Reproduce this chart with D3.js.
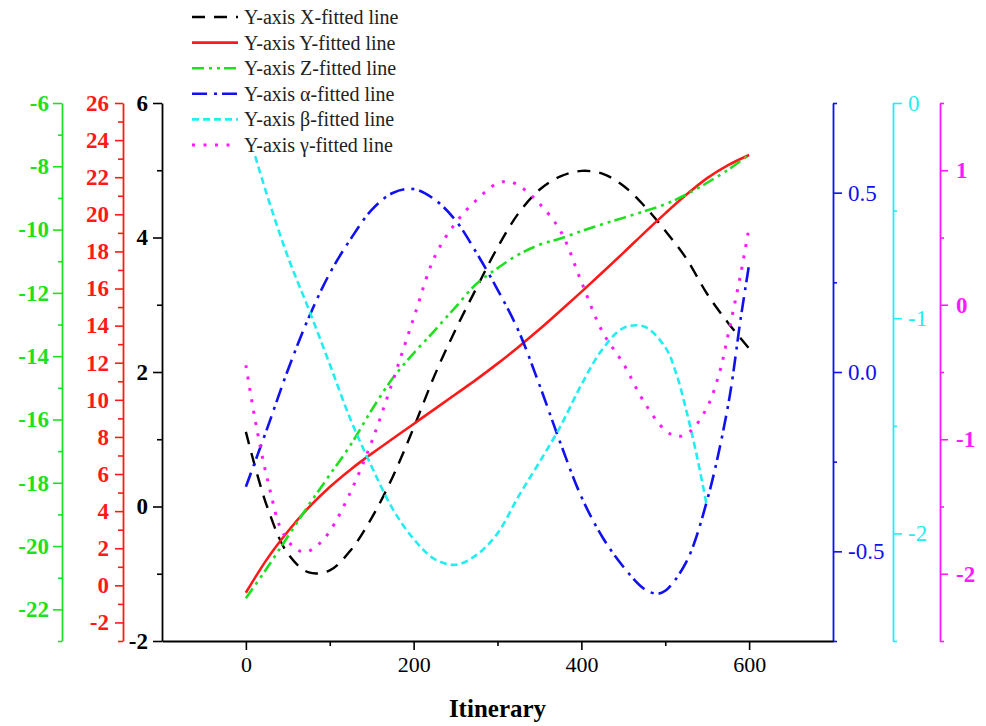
<!DOCTYPE html>
<html>
<head>
<meta charset="utf-8">
<script src="https://cdn.jsdelivr.net/npm/d3@7"></script>
<style>
  html, body { margin: 0; padding: 0; background: #fff; }
  svg { display: block; }
  text { font-family: "Liberation Serif", "Times New Roman", serif; }
</style>
</head>
<body>
<svg id="chart" width="986" height="726"></svg>
<script>
// Fitted lines along the itinerary, each on its own Y axis
const xLabel = "Itinerary";
const legendLabels = [
  "Y-axis X-fitted line",
  "Y-axis Y-fitted line",
  "Y-axis Z-fitted line",
  "Y-axis \u03b1-fitted line",
  "Y-axis \u03b2-fitted line",
  "Y-axis \u03b3-fitted line"
];

const stepsA = [0, 25, 50, 75, 100, 125, 150, 175, 200, 225, 250, 275, 300,
                325, 350, 375, 400, 425, 450, 475, 500, 525, 550, 575, 600];

const xFitX = stepsA;
const xFitValues = [1.11, 0.01, -0.70, -0.98, -0.95, -0.65, -0.17, 0.44, 1.17, 1.95, 2.63, 3.25, 3.85,
                    4.36, 4.71, 4.91, 4.99, 4.95, 4.77, 4.47, 4.10, 3.69, 3.16, 2.73, 2.35];

const yFitX = stepsA;
const yFitValues = [-0.40, 1.40, 2.90, 4.20, 5.30, 6.25, 7.10, 7.90, 8.70, 9.50, 10.30, 11.10, 11.95,
                    12.85, 13.80, 14.80, 15.82, 16.86, 17.92, 19.0, 20.05, 21.05, 21.95, 22.65, 23.2];

const zFitX = stepsA;
const zFitValues = [-21.65, -20.7, -19.7, -18.7, -17.75, -16.8, -15.7, -14.7, -13.91, -13.19, -12.45, -11.71, -11.22,
                    -10.79, -10.48, -10.28, -10.05, -9.83, -9.63, -9.42, -9.2, -8.89, -8.52, -8.11, -7.64];

const alphaFitX = [0, 25, 50, 75, 100, 125, 150, 175, 200, 225, 250, 275, 300,
                   325, 350, 375, 400, 425, 450, 475, 490, 500, 525, 550, 575, 590, 600];
const alphaFitValues = [-0.32, -0.16, 0.005, 0.152, 0.275, 0.371, 0.452, 0.499, 0.51, 0.481, 0.423, 0.332, 0.23,
                        0.115, -0.036, -0.198, -0.348, -0.46, -0.543, -0.605, -0.618, -0.61, -0.53, -0.357, -0.092, 0.15, 0.30];

const betaFitX = [0, 25, 50, 75, 100, 125, 150, 175, 200, 225, 250, 275, 300,
                  325, 350, 375, 400, 425, 450, 475, 500, 513, 525, 537, 549];
const betaFitValues = [-0.10, -0.425, -0.714, -0.959, -1.214, -1.473, -1.69, -1.886, -2.026, -2.119, -2.146, -2.1, -2.0,
                       -1.828, -1.669, -1.503, -1.309, -1.145, -1.046, -1.039, -1.135, -1.256, -1.427, -1.628, -1.86];

const gammaFitX = [0, 10, 20, 30, 40, 55, 70, 85, 100, 125, 150, 175, 200, 225, 250, 275, 300,
                   315, 330, 350, 375, 400, 425, 450, 475, 500, 515, 530, 550, 565, 575, 590, 600];
const gammaFitValues = [-0.45, -0.82, -1.14, -1.41, -1.64, -1.79, -1.84, -1.79, -1.685, -1.39, -1.018, -0.57, -0.10, 0.355, 0.608, 0.779, 0.903,
                        0.915, 0.866, 0.752, 0.55, 0.171, -0.2, -0.437, -0.726, -0.933, -0.98, -0.94, -0.762, -0.498, -0.22, 0.23, 0.58];

// tick values for every axis
const xMajor = [0, 200, 400, 600], xMinor = [100, 300, 500];
const blackMajor = [-2, 0, 2, 4, 6], blackMinor = [-1, 1, 3, 5];
const redMajor = d3.range(-2, 27, 2), redMinor = d3.range(-3, 26, 2);
const greenMajor = d3.range(-22, -5, 2), greenMinor = d3.range(-23, -6, 2);
const alphaMajor = [-0.5, 0, 0.5], alphaMinor = [-0.75, -0.25, 0.25, 0.75];
const betaMajor = [-2, -1, 0], betaMinor = [-2.5, -1.5, -0.5];
const gammaMajor = [-2, -1, 0, 1], gammaMinor = [-2.5, -1.5, -0.5, 0.5, 1.5];

const svg = d3.select("#chart");
const plotTop = 103, plotBottom = 641, plotLeft = 162, plotRight = 833;

const x = d3.scaleLinear().domain([-100, 700]).range([plotLeft, plotRight]);
const yX = d3.scaleLinear().domain([-2, 6]).range([plotBottom, plotTop]);
const yY = d3.scaleLinear().domain([-3, 26]).range([plotBottom, plotTop]);
const yZ = d3.scaleLinear().domain([-23, -6]).range([plotBottom, plotTop]);
const yA = d3.scaleLinear().domain([-0.75, 0.75]).range([plotBottom, plotTop]);
const yB = d3.scaleLinear().domain([-2.5, 0]).range([plotBottom, plotTop]);
const yG = d3.scaleLinear().domain([-2.5, 1.5]).range([plotBottom, plotTop]);

const COL = {
  black: "#000000", red: "#FF1A1A", green: "#1EE01E",
  blue: "#1010F0", cyan: "#22EEF2", magenta: "#FF1AFF"
};

// draws one vertical axis: major ticks with labels, minor ticks without
function vAxis(scale, xpos, side, major, minor, color, fmt, bold, majLen, minLen, pad) {
  const mk = side === "left" ? d3.axisLeft : d3.axisRight;
  const g = svg.append("g").attr("transform", `translate(${xpos},0)`);
  g.append("g")
    .call(mk(scale).tickValues(minor).tickSize(minLen).tickSizeOuter(0).tickFormat(""))
    .call(s => s.select(".domain").remove())
    .call(s => s.selectAll("line").attr("stroke", color).attr("stroke-width", 1.6));
  g.append("g")
    .call(mk(scale).tickValues(major).tickSize(majLen).tickSizeOuter(0).tickPadding(pad).tickFormat(fmt))
    .call(s => s.select(".domain").attr("stroke", color).attr("stroke-width", 1.8))
    .call(s => s.selectAll("line").attr("stroke", color).attr("stroke-width", 1.6))
    .call(s => s.selectAll("text")
      .attr("fill", color)
      .attr("font-family", "'Liberation Serif', 'Times New Roman', serif")
      .attr("font-size", 23)
      .attr("font-weight", bold ? "bold" : "normal"));
  return g;
}

const intFmt = d => d3.format("d")(d).replace("\u2212", "-");
vAxis(yZ, 62, "left", greenMajor, greenMinor, COL.green, intFmt, true, 9, 4, 4);
vAxis(yY, 123, "left", redMajor, redMinor, COL.red, intFmt, true, 8, 5, 6);
vAxis(yX, plotLeft, "left", blackMajor, blackMinor, COL.black, intFmt, true, 9, 5, 5);
vAxis(yA, plotRight, "right", alphaMajor, alphaMinor, COL.blue, d => d3.format(".1f")(d).replace("\u2212", "-"), false, 9, 4, 6);
vAxis(yB, 893, "right", betaMajor, betaMinor, COL.cyan, intFmt, false, 9, 4, 6);
vAxis(yG, 940, "right", gammaMajor, gammaMinor, COL.magenta, intFmt, true, 8, 4, 8);

// horizontal axis
const gx = svg.append("g").attr("transform", `translate(0,${plotBottom})`);
gx.append("g")
  .call(d3.axisBottom(x).tickValues(xMinor).tickSize(5).tickSizeOuter(0).tickFormat(""))
  .call(s => s.select(".domain").remove())
  .call(s => s.selectAll("line").attr("stroke", "#000").attr("stroke-width", 1.6));
gx.append("g")
  .call(d3.axisBottom(x).tickValues(xMajor).tickSize(9).tickSizeOuter(0).tickPadding(6).tickFormat(d3.format("d")))
  .call(s => s.select(".domain").attr("stroke", "#000").attr("stroke-width", 1.8))
  .call(s => s.selectAll("line").attr("stroke", "#000").attr("stroke-width", 1.6))
  .call(s => s.selectAll("text")
    .attr("fill", "#000")
    .attr("font-family", "'Liberation Serif', 'Times New Roman', serif")
    .attr("font-size", 22));

svg.append("text")
  .attr("x", (x(0) + x(600)) / 2)
  .attr("y", 717)
  .attr("text-anchor", "middle")
  .attr("font-size", 25)
  .attr("font-weight", "bold")
  .text(xLabel);

// series definitions
const series = [
  { xs: xFitX, ys: xFitValues, y: yX, color: COL.black, dash: "13,9", w: 2.4 },
  { xs: yFitX, ys: yFitValues, y: yY, color: COL.red, dash: null, w: 2.6 },
  { xs: zFitX, ys: zFitValues, y: yZ, color: COL.green, dash: "12,5,3,5,3,4", w: 2.6 },
  { xs: alphaFitX, ys: alphaFitValues, y: yA, color: COL.blue, dash: "15,7,3,5", w: 2.6 },
  { xs: betaFitX, ys: betaFitValues, y: yB, color: COL.cyan, dash: "7,4", w: 2.6 },
  { xs: gammaFitX, ys: gammaFitValues, y: yG, color: COL.magenta, dash: "3,8.5", w: 3 }
];

const plot = svg.append("g");
series.forEach(s => {
  const pts = s.xs.map((v, i) => [v, s.ys[i]]);
  const line = d3.line()
    .x(d => x(d[0]))
    .y(d => s.y(d[1]))
    .curve(d3.curveCatmullRom.alpha(0.5));
  plot.append("path")
    .datum(pts)
    .attr("d", line)
    .attr("fill", "none")
    .attr("stroke", s.color)
    .attr("stroke-width", s.w)
    .attr("stroke-dasharray", s.dash);
});

// legend
const legend = svg.append("g");
legend.append("rect")
  .attr("x", 188).attr("y", 3).attr("width", 220).attr("height", 153)
  .attr("fill", "#fff");
series.forEach((s, i) => {
  const cy = 17 + i * 25.6;
  legend.append("line")
    .attr("x1", 192).attr("x2", 238)
    .attr("y1", cy).attr("y2", cy)
    .attr("stroke", s.color)
    .attr("stroke-width", s.w)
    .attr("stroke-dasharray", s.dash);
  legend.append("text")
    .attr("x", 244).attr("y", cy)
    .attr("dy", "0.35em")
    .attr("font-size", 20)
    .attr("fill", "#222")
    .text(legendLabels[i]);
});
</script>
</body>
</html>
